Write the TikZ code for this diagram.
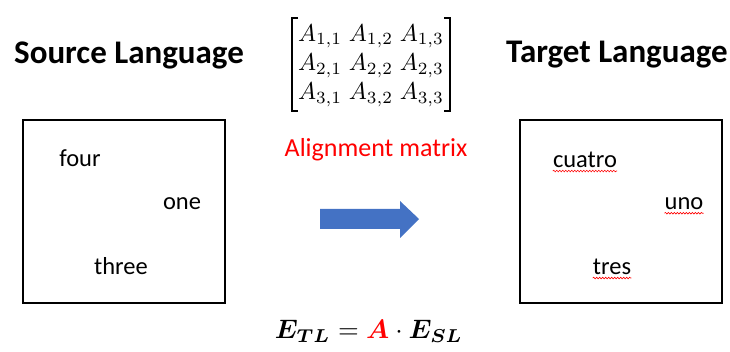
\documentclass[tikz,border=0pt]{standalone}
\usepackage{fontspec}
\usepackage{graphicx}
\usepackage{amsmath}
\usepackage{bm}
\setmainfont{Carlito}
\usetikzlibrary{decorations.pathmorphing}
\definecolor{arrowblue}{RGB}{68,114,196}
\begin{document}
\begin{tikzpicture}[x=1pt,y=-1pt,
  head/.style={font=\fontsize{33}{38}\selectfont\bfseries, inner sep=0},
  word/.style={font=\fontsize{24.5}{29}\selectfont, inner sep=0},
  frame/.style={draw, line width=1.6pt},
  bracket/.style={draw, line width=1.3pt},
  squiggle/.style={draw=red, line width=0.6pt, decorate, decoration={snake, amplitude=0.8pt, segment length=3pt}}]
\useasboundingbox (0,0) rectangle (730,352);
\node[head] (src) at (129,55) {Source Language};
\node[head] (tgt) at (617,55) {Target Language};
\node[frame, minimum width=202pt, minimum height=183pt, inner sep=0] (lbox) at (124,211.5) {};
\node[frame, minimum width=202pt, minimum height=183pt, inner sep=0] (rbox) at (621,211.5) {};
\node[word] (four) at (80,158) {four};
\node[word] (one) at (182,204) {one};
\node[word] (three) at (121,266) {three};
\node[word] (cuatro) at (585,160) {cuatro};
\node[word] (uno) at (684,204) {uno};
\node[word] (tres) at (612,267) {tres};
\draw[squiggle] (cuatro.south west) ++(0,3) coordinate (c1) -- (c1 -| cuatro.south east);
\draw[squiggle] (uno.south west) ++(0,3) coordinate (u1) -- (u1 -| uno.south east);
\draw[squiggle] (tres.south west) ++(0,3) coordinate (t1) -- (t1 -| tres.south east);
\node[inner sep=0] (mat) at (371,64.5)
  {\resizebox*{146pt}{88pt}{$\begin{matrix}A_{1,1}\;A_{1,2}\;A_{1,3}\\ A_{2,1}\;A_{2,2}\;A_{2,3}\\ A_{3,1}\;A_{3,2}\;A_{3,3}\end{matrix}$}};
\coordinate (lbt) at (292,18);
\coordinate (lbb) at (292,111);
\coordinate (rbt) at (450,18);
\coordinate (rbb) at (450,111);
\draw[bracket] ([xshift=6pt]lbt) -- (lbt) -- (lbb) -- ([xshift=6pt]lbb);
\draw[bracket] ([xshift=-6pt]rbt) -- (rbt) -- (rbb) -- ([xshift=-6pt]rbb);
\node[inner sep=0, text=red, font=\fontsize{26}{30}\selectfont] (lab) at (376,150) {Alignment matrix};
\fill[arrowblue] (320,209) -- (400,209) -- (400,201) -- (419,219) -- (400,238) -- (400,229) -- (320,229) -- cycle;
\node[inner sep=0] (eq) at (369,331)
  {\resizebox{188pt}{!}{$\bm{E_{TL}} = {\color{red}\bm{A}}\cdot\bm{E_{SL}}$}};
\end{tikzpicture}
\end{document}
